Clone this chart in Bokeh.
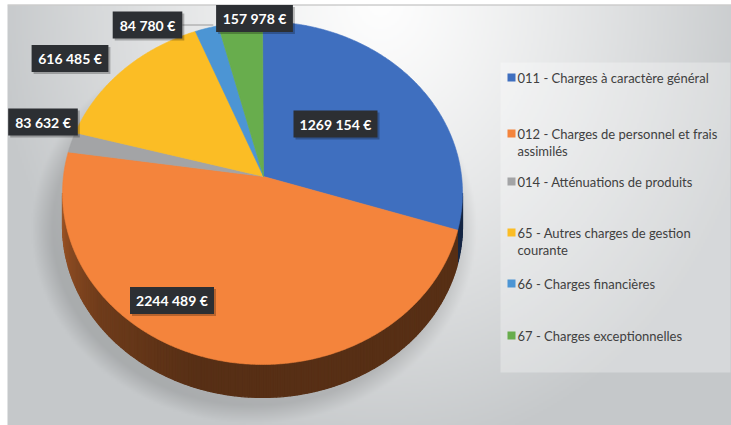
import textwrap
import numpy as np
from bokeh.plotting import figure
from bokeh.models import Range1d
from bokeh.core.properties import value
from bokeh.embed import file_html
from bokeh.resources import INLINE

# ---------------- data ----------------
categories = [
    "011 - Charges à caractère général",
    "012 - Charges de personnel et frais assimilés",
    "014 - Atténuations de produits",
    "65 - Autres charges de gestion courante",
    "66 - Charges financières",
    "67 - Charges exceptionnelles",
]
values = [1269154, 2244489, 83632, 616485, 84780, 157978]
value_labels = ["1269 154 €", "2244 489 €", "83 632 €", "616 485 €", "84 780 €", "157 978 €"]

# ---------------- styles / layout ----------------
top_colors = ["#3f6fbf", "#f4843c", "#a3a4a6", "#fbbd25", "#4c95d4", "#68ad4d"]
FONT = value("Lato")
W, H = 731, 425
CX, CY, A, B = 262.0, 192.5, 200.0, 171.5     # top-face ellipse (pixel space)
APEX = (263.0, 176.0)                           # where the slices meet
DEPTH = 33.0
label_centers = [(335, 123.5), (171.5, 300), (42.5, 121.5), (69.5, 58), (147, 24.5), (254, 18)]
legend_rows = [77, 133, 181, 232, 283, 335]
legend_box = (500, 730, 62, 372)

p = figure(width=W, height=H, x_range=Range1d(0, W), y_range=Range1d(H, 0),
           output_backend="svg", toolbar_location=None, min_border=0)
p.axis.visible = False
p.xgrid.visible = False
p.ygrid.visible = False
p.outline_line_color = None
p.background_fill_color = "white"
p.border_fill_color = "white"

# ---------------- background gradient + pie shadow ----------------
step = 2
x_lo, x_hi, y_lo, y_hi = 7, W, 5, H
gx = np.arange(x_lo, x_hi, step) + step / 2
gy = np.arange(y_lo, y_hi, step) + step / 2
X, Y = np.meshgrid(gx, gy)
t = np.sqrt(((X - 380) / 390) ** 2 + ((Y - 0) / 460) ** 2)
t = np.clip(t, 0, 1) ** 1.2
white = np.array([254, 254, 254], float)
gray = np.array([197, 200, 202], float)
rgb = white[None, None, :] * (1 - t[..., None]) + gray[None, None, :] * t[..., None]
d = np.sqrt(((X - 254) / 210) ** 2 + ((Y - 228) / 184) ** 2)
shade = np.clip((1.06 - d) / 0.10, 0, 1) * 0.14
rgb = rgb * (1 - shade[..., None])
img = np.empty((len(gy), len(gx)), dtype=np.uint32)
view = img.view(dtype=np.uint8).reshape((len(gy), len(gx), 4))
view[..., 0] = rgb[..., 0].astype(np.uint8)
view[..., 1] = rgb[..., 1].astype(np.uint8)
view[..., 2] = rgb[..., 2].astype(np.uint8)
view[..., 3] = 255
p.image_rgba(image=[img], x=x_lo, y=y_lo, dw=x_hi - x_lo, dh=y_hi - y_lo)
p.segment(x0=[x_lo], y0=[4.5], x1=[x_hi], y1=[4.5], line_color="#b4b4b4", line_width=1)

# ---------------- pie geometry ----------------
vals = np.array(values, float)
frac = vals / vals.sum()
ends = np.cumsum(frac) * 360.0
starts = ends - frac * 360.0


def ell(theta_deg):
    th = np.radians(theta_deg)
    return CX + A * np.sin(th), CY - B * np.cos(th)


def hex2rgb(h):
    return np.array([int(h[i:i + 2], 16) for i in (1, 3, 5)], float)


def rgb2hex(c):
    c = np.clip(c, 0, 255).astype(int)
    return "#%02x%02x%02x" % tuple(c)


# side (front, visible from 90 to 270 degrees)
side_xs, side_ys, side_cols = [], [], []
thetas = np.linspace(90, 270, 181)
for t0, t1 in zip(thetas[:-1], thetas[1:]):
    mid = 0.5 * (t0 + t1)
    k = int(np.searchsorted(ends, mid))
    k = min(k, len(values) - 1)
    f = np.interp(mid, [90, 200, 235, 270], [0.36, 0.36, 0.46, 0.64])
    col = rgb2hex(hex2rgb(top_colors[k]) * f)
    x0, y0 = ell(t0)
    x1, y1 = ell(t1)
    side_xs.append([x0, x1, x1, x0])
    side_ys.append([y0, y1, y1 + DEPTH, y0 + DEPTH])
    side_cols.append(col)
p.patches(side_xs, side_ys, fill_color=side_cols, line_color=side_cols, line_width=1.2)

# top face slices
top_xs, top_ys = [], []
for s, e in zip(starts, ends):
    th = np.linspace(s, e, max(3, int((e - s) * 2)))
    ex, ey = ell(th)
    top_xs.append([APEX[0]] + list(ex))
    top_ys.append([APEX[1]] + list(ey))
p.patches(top_xs, top_ys, fill_color=top_colors, line_color=top_colors, line_width=0.6)

# ---------------- data labels ----------------
lx = [c[0] for c in label_centers]
ly = [c[1] for c in label_centers]
lw = [7.2 * len(s) + 12 for s in value_labels]
x_leader_start = lx[4] + lw[4] / 2
p.segment(x0=[x_leader_start], y0=[ly[4]], x1=[x_leader_start + 31], y1=[ly[4]],
          line_color="#9a9a9a", line_width=1)
p.rect(x=[x + 2 for x in lx], y=[y + 2 for y in ly], width=lw, height=27,
       fill_color="black", fill_alpha=0.25, line_color=None)
p.rect(x=lx, y=ly, width=lw, height=27, fill_color="#2c2f33", line_color=None)
p.text(x=lx, y=ly, text=value_labels, text_font=FONT, text_font_style="bold",
       text_font_size="14px", text_color="white", text_align="center", text_baseline="middle")

# ---------------- legend ----------------
l0, l1, b0, b1 = legend_box
p.quad(left=[l0], right=[l1], top=[b0], bottom=[b1], fill_color="white", fill_alpha=0.3,
       line_color=None)
sq_x, sq_y = [], []
tx, ty, tt = [], [], []
for cat, row in zip(categories, legend_rows):
    lines = textwrap.wrap(cat, width=35)
    sq_x.append(511)
    sq_y.append(row)
    for j, ln in enumerate(lines):
        tx.append(517)
        ty.append(row + j * 17)
        tt.append(ln)
p.rect(x=sq_x, y=sq_y, width=8, height=8, fill_color=top_colors, line_color=None)
p.text(x=tx, y=ty, text=tt, text_font=FONT, text_font_size="13px", text_color="#404040",
       text_align="left", text_baseline="middle")

open("out.html", "w").write(file_html(p, INLINE))
